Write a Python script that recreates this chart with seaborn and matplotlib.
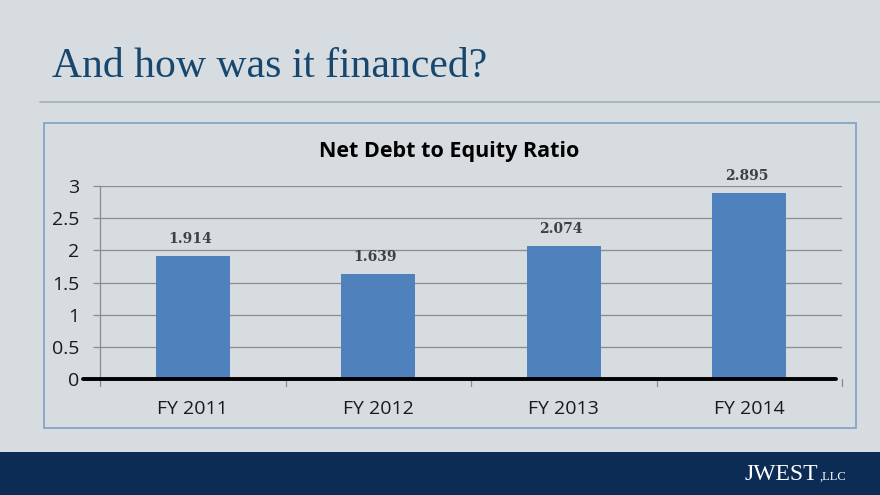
import matplotlib
matplotlib.use("Agg")
import matplotlib.pyplot as plt
import seaborn as sns
import pandas as pd
from matplotlib.patches import Rectangle
from matplotlib.lines import Line2D

categories = ["FY 2011", "FY 2012", "FY 2013", "FY 2014"]
values = [1.914, 1.639, 2.074, 2.895]
value_labels = ["1.914", "1.639", "2.074", "2.895"]
yticks = [0, 0.5, 1, 1.5, 2, 2.5, 3]
ytick_labels = ["0", "0.5", "1", "1.5", "2", "2.5", "3"]

sns.set_theme(style="white")
plt.rcParams['font.family'] = ['Open Sans', 'DejaVu Sans']

W, H = 880, 495
fig = plt.figure(figsize=(8.8, 4.95), dpi=100)
bg = "#d6dcdf"
fig.patch.set_facecolor(bg)

def fx(x): return x / W
def fy(y): return 1 - y / H

# footer band
fig.patches.append(Rectangle((0, 0), 1, fy(452), transform=fig.transFigure,
                             facecolor="#0c2b55", edgecolor="none", zorder=0))
# slide title
fig.text(fx(52), fy(77), "And how was it financed?", family=["Liberation Serif", "DejaVu Serif"],
         fontsize=30, color="#17476f", ha="left", va="baseline")
# rule
fig.lines.append(Line2D([fx(40), fx(880)], [fy(102), fy(102)], transform=fig.transFigure,
                        color="#a9b0b4", lw=1.2))
# chart border
fig.patches.append(Rectangle((fx(44), fy(428)), fx(856) - fx(44), fy(123) - fy(428),
                             transform=fig.transFigure, facecolor="none",
                             edgecolor="#86a5c9", lw=1.3, zorder=1))
# logo
fig.text(fx(818), fy(480), "JWEST", family=["Liberation Serif", "DejaVu Serif"],
         fontsize=17, color="white", ha="right", va="baseline")
fig.text(fx(819), fy(480), ",LLC", family=["Liberation Serif", "DejaVu Serif"],
         fontsize=9, color="white", ha="left", va="baseline")

ax = fig.add_axes([fx(100), fy(379), fx(842) - fx(100), fy(186) - fy(379)])
ax.set_facecolor("none")
df = pd.DataFrame({"cat": categories, "val": values})
sns.barplot(data=df, x="cat", y="val", color="#4f81bd", saturation=1, width=0.4,
            linewidth=0, edgecolor="none", ax=ax, zorder=3)
ax.set_xlim(-0.5, 3.5)
ax.set_ylim(0, 3)
ax.set_yticks(yticks)
ax.set_yticklabels(ytick_labels, fontsize=14, color="#1a1a1a")
ax.set_xticks(range(len(categories)))
ax.set_xticklabels(categories, fontsize=14, color="#1a1a1a")
ax.tick_params(axis="x", length=0, pad=15)
ax.tick_params(axis="y", length=5, width=0.9, color="#8c8c8c", pad=10, left=True)
ax.set_xlabel("")
ax.set_ylabel("")
for s in ["top", "right", "bottom"]:
    ax.spines[s].set_visible(False)
ax.spines["left"].set_color("#8c8c8c")
ax.spines["left"].set_linewidth(0.9)
for t in yticks[1:]:
    ax.axhline(t, color="#8c8c8c", lw=0.9, zorder=1)
# category boundary ticks
for b in [-0.5, 0.5, 1.5, 2.5, 3.5]:
    ax.plot([b, b], [0, -0.11], color="#8c8c8c", lw=0.9, clip_on=False)
# thick zero line
ax.plot([-0.592, 3.468], [0, 0], color="black", lw=2.8, clip_on=False, zorder=5)

for i, (v, lab) in enumerate(zip(values, value_labels)):
    ax.text(i - 0.015, v + 0.2, lab, ha="center", va="baseline",
            family=["DejaVu Serif"], fontweight="bold",
            fontsize=10, color="#404040", clip_on=False)

fig.text(fx(449), fy(157), "Net Debt to Equity Ratio", ha="center", va="baseline",
         fontsize=15.5, fontweight="bold", color="black")

fig.savefig("out.png", dpi=100, facecolor=bg)
